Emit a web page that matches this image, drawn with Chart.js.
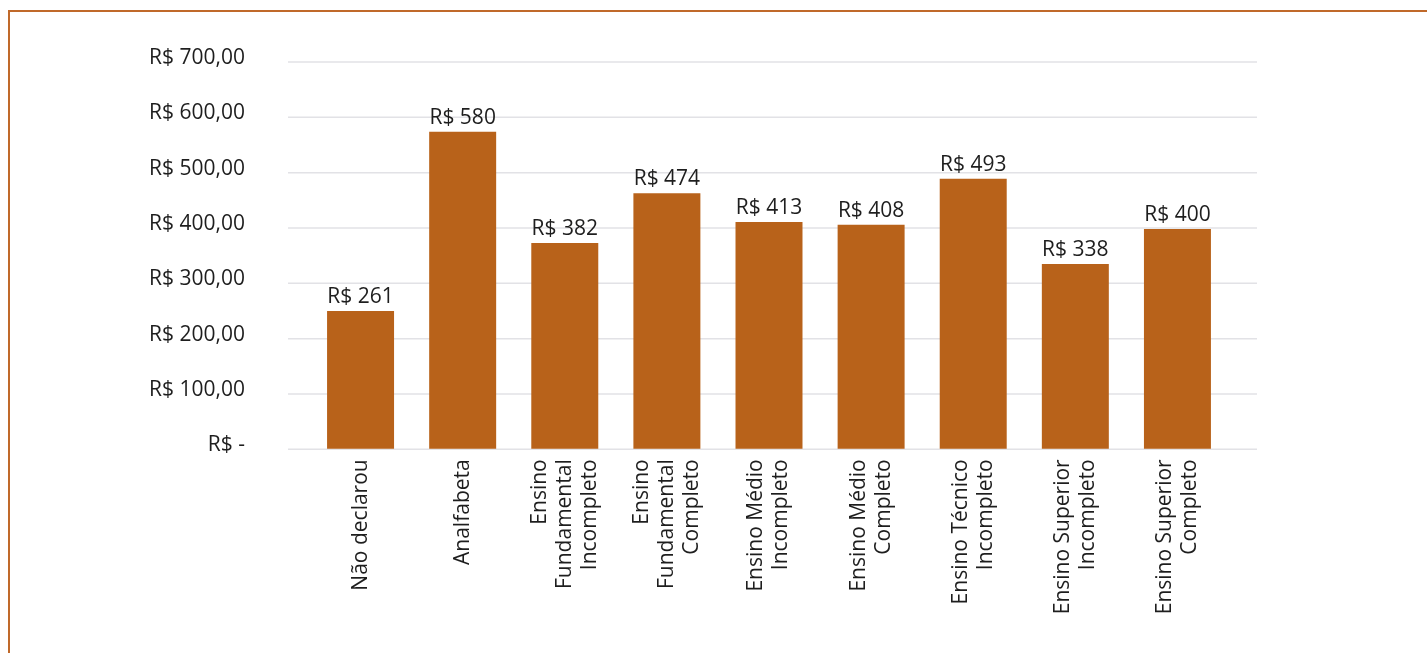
<!DOCTYPE html>
<html lang="pt-BR">
<head>
  <meta charset="UTF-8" />
  <title>Renda média por escolaridade</title>
  <script src="https://cdn.jsdelivr.net/npm/chart.js"></script>
  <style>
    html, body { margin: 0; padding: 0; background: #fff; overflow: hidden; }
    #wrap { position: relative; width: 1427px; height: 653px; }
    #frame {
      position: absolute; left: 8px; top: 10px; width: 1500px; height: 700px;
      border-left: 2px solid #c0692a; border-top: 2px solid #c0692a;
    }
    canvas { position: absolute; left: 0; top: 0; }
  </style>
</head>
<body>
  <div id="wrap">
    <div id="frame"></div>
    <canvas id="chart" width="1427" height="653"></canvas>
  </div>

  <script>
    // categories (each line of the rotated label is one entry)
    const categories = [
      ["Não declarou"],
      ["Analfabeta"],
      ["Ensino", "Fundamental", "Incompleto"],
      ["Ensino", "Fundamental", "Completo"],
      ["Ensino Médio", "Incompleto"],
      ["Ensino Médio", "Completo"],
      ["Ensino Técnico", "Incompleto"],
      ["Ensino Superior", "Incompleto"],
      ["Ensino Superior", "Completo"]
    ];
    // bar heights
    const barValues = [250, 574, 373, 463, 411, 406, 489, 335, 398];
    // value labels printed above the bars
    const valueLabels = ["R$ 261", "R$ 580", "R$ 382", "R$ 474", "R$ 413", "R$ 408", "R$ 493", "R$ 338", "R$ 400"];
    const yTicks = [0, 100, 200, 300, 400, 500, 600, 700];

    const barColor = "#b8621a";
    const textColor = "#1e1e1e";
    const gridColor = "#e2e2e6";
    const fontFamily = "'Open Sans', 'Noto Sans', sans-serif";

    function money(v) {
      if (v === 0) return "R$ -";
      return "R$ " + v.toFixed(2).replace(".", ",");
    }

    // horizontal grid lines a little wider than the plot area
    const gridPlugin = {
      id: "wideGrid",
      beforeDatasetsDraw(chart) {
        const { ctx, chartArea, scales } = chart;
        ctx.save();
        ctx.strokeStyle = gridColor;
        ctx.lineWidth = 1.5;
        yTicks.forEach(t => {
          const y = scales.y.getPixelForValue(t);
          ctx.beginPath();
          ctx.moveTo(chartArea.left - 21.5, y);
          ctx.lineTo(chartArea.right + 28.5, y);
          ctx.stroke();
        });
        ctx.restore();
      }
    };

    // value labels on top of bars + rotated category labels
    const labelPlugin = {
      id: "labels",
      afterDatasetsDraw(chart) {
        const { ctx, scales } = chart;
        const meta = chart.getDatasetMeta(0);
        ctx.save();
        ctx.fillStyle = textColor;
        ctx.font = "21px " + fontFamily;
        ctx.textAlign = "center";
        ctx.textBaseline = "alphabetic";
        meta.data.forEach((bar, i) => {
          ctx.fillText(valueLabels[i], bar.x, bar.y - 8);
        });

        const lh = 25;
        categories.forEach((lines, i) => {
          const px = scales.x.getPixelForValue(i);
          lines.forEach((line, j) => {
            const x = px + (j - (lines.length - 1) / 2) * lh;
            ctx.save();
            ctx.translate(x, scales.x.top + 10);
            ctx.rotate(-Math.PI / 2);
            ctx.textAlign = "right";
            ctx.textBaseline = "middle";
            ctx.fillText(line, 0, 0);
            ctx.restore();
          });
        });
        ctx.restore();
      }
    };

    new Chart(document.getElementById("chart"), {
      type: "bar",
      data: {
        labels: categories.map(c => c.join(" ")),
        datasets: [{
          data: barValues,
          backgroundColor: barColor,
          borderWidth: 0,
          categoryPercentage: 1,
          barPercentage: 0.656
        }]
      },
      options: {
        responsive: false,
        animation: false,
        layout: { padding: { top: 62, right: 198.5, bottom: 0, left: 0 } },
        plugins: { legend: { display: false }, tooltip: { enabled: false } },
        scales: {
          x: {
            grid: { display: false, drawTicks: false },
            border: { display: false },
            ticks: { display: false },
            afterFit(scale) { scale.height = 203.7; }
          },
          y: {
            min: 0,
            max: 700,
            // invisible tick marks push the labels away from the plot
            grid: { display: true, drawOnChartArea: false, drawTicks: true, tickLength: 64.5, tickColor: "rgba(0,0,0,0)" },
            border: { display: false },
            afterBuildTicks(scale) { scale.ticks = yTicks.map(v => ({ value: v })); },
            ticks: {
              padding: 0,
              labelOffset: -4,
              color: textColor,
              font: { family: fontFamily, size: 21 },
              callback: v => money(v)
            },
            afterFit(scale) { scale.width = 309.5; }
          }
        }
      },
      plugins: [gridPlugin, labelPlugin]
    });
  </script>
</body>
</html>
